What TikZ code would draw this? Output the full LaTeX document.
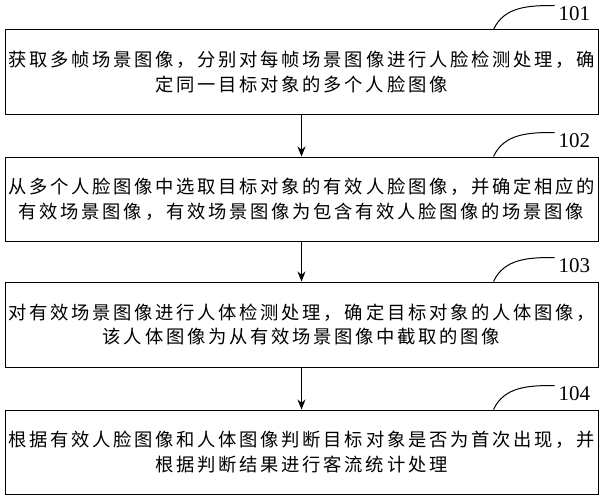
\documentclass[tikz,border=0pt]{standalone}
\usepackage{fontspec}
\setmainfont{Liberation Serif}
\newfontfamily\cjk[LetterSpace=15]{Noto Sans CJK SC}
\usetikzlibrary{arrows.meta}

\tikzset{
  stepbox/.style={draw, line width=1pt, minimum width=593pt, minimum height=84pt,
    inner sep=2pt, align=center, font=\cjk\fontsize{18.3pt}{24.5pt}\selectfont},
  numlabel/.style={anchor=west, inner sep=0pt, font=\fontsize{21pt}{21pt}\selectfont},
  flow/.style={line width=1pt, -{Stealth[length=10pt,width=8pt]}},
  hook/.style={line width=1pt}
}

\begin{document}
\begin{tikzpicture}[x=1pt,y=1pt]
    \useasboundingbox (0,0) rectangle (604,-500);

    \node[stepbox] (b1) at (301.5,-72) {获取多帧场景图像，分别对每帧场景图像进行人脸检测处理，确\\定同一目标对象的多个人脸图像};
    \node[stepbox] (b2) at (301.5,-199) {从多个人脸图像中选取目标对象的有效人脸图像，并确定相应的\\有效场景图像，有效场景图像为包含有效人脸图像的场景图像};
    \node[stepbox, minimum height=85pt] (b3) at (301.5,-324.5) {对有效场景图像进行人体检测处理，确定目标对象的人体图像，\\该人体图像为从有效场景图像中截取的图像};
    \node[stepbox] (b4) at (301.5,-452) {根据有效人脸图像和人体图像判断目标对象是否为首次出现，并\\根据判断结果进行客流统计处理};

    % step numbers
    \node[numlabel] (l1) at ([xshift=-40pt,yshift=16pt]b1.north east) {101};
    \node[numlabel] (l2) at ([xshift=-40pt,yshift=16pt]b2.north east) {102};
    \node[numlabel] (l3) at ([xshift=-40pt,yshift=16pt]b3.north east) {103};
    \node[numlabel] (l4) at ([xshift=-40pt,yshift=16pt]b4.north east) {104};

    \draw[hook] ([xshift=-105pt]b1.north east) to[out=65,in=180] ([xshift=-4pt,yshift=8pt]l1.west);
    \draw[hook] ([xshift=-105pt]b2.north east) to[out=65,in=180] ([xshift=-4pt,yshift=8pt]l2.west);
    \draw[hook] ([xshift=-105pt]b3.north east) to[out=65,in=180] ([xshift=-4pt,yshift=8pt]l3.west);
    \draw[hook] ([xshift=-105pt]b4.north east) to[out=65,in=180] ([xshift=-4pt,yshift=8pt]l4.west);

    \draw[flow] (b1) -- (b2);
    \draw[flow] (b2) -- (b3);
    \draw[flow] (b3) -- (b4);

\end{tikzpicture}
\end{document}
